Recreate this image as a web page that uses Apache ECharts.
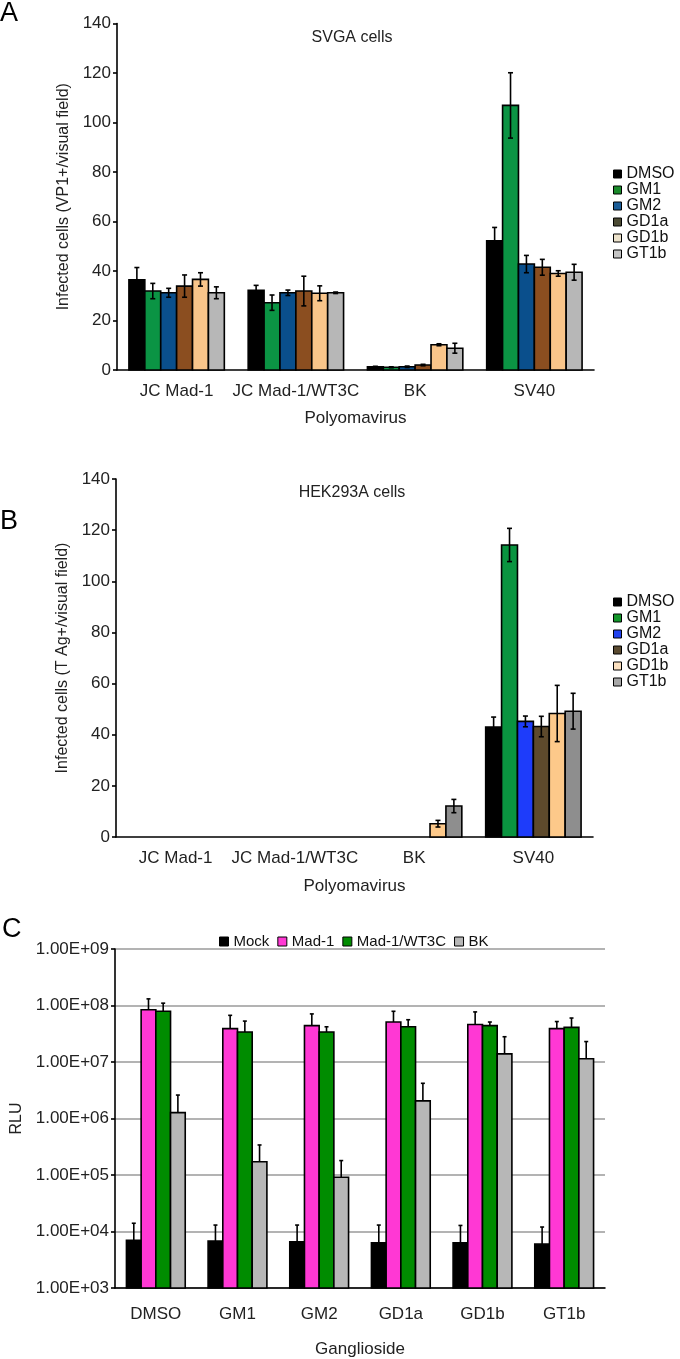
<!DOCTYPE html>
<html><head><meta charset="utf-8">
<script src="https://cdn.jsdelivr.net/npm/echarts@6/dist/echarts.min.js"></script>
<style>html,body{margin:0;padding:0;background:#fff}#c{width:680px;height:1359px}</style>
</head><body><div id="c"></div>
<script>
// ---------- DATA ----------
const virusCats = ['JC Mad-1', 'JC Mad-1/WT3C', 'BK', 'SV40'];
const gangNames = ['DMSO', 'GM1', 'GM2', 'GD1a', 'GD1b', 'GT1b'];
const linearTicks = [0, 20, 40, 60, 80, 100, 120, 140];

// Panel A: SVGA cells, infected cells per visual field (mean, ±SD)
const svgaDMSO = [36.4, 32.2, 1.3, 52.2];
const svgaDMSOErr = [5.0, 2.0, 0.2, 5.4];
const svgaGM1 = [31.9, 27.2, 1.1, 106.9];
const svgaGM1Err = [3.1, 3.1, 0.2, 13.2];
const svgaGM2 = [31.2, 31.2, 1.3, 42.8];
const svgaGM2Err = [1.8, 1.1, 0.3, 3.5];
const svgaGD1a = [33.9, 31.9, 2.0, 41.5];
const svgaGD1aErr = [4.5, 6.0, 0.3, 3.2];
const svgaGD1b = [36.6, 31.0, 10.2, 39.0];
const svgaGD1bErr = [2.7, 3.0, 0.4, 1.1];
const svgaGT1b = [31.2, 31.2, 8.8, 39.5];
const svgaGT1bErr = [2.4, 0.3, 2.0, 3.2];

// Panel B: HEK293A cells
const hekDMSO = [0, 0, 0, 43.0];
const hekDMSOErr = [0, 0, 0, 3.9];
const hekGM1 = [0, 0, 0, 114.2];
const hekGM1Err = [0, 0, 0, 6.5];
const hekGM2 = [0, 0, 0, 45.2];
const hekGM2Err = [0, 0, 0, 2.1];
const hekGD1a = [0, 0, 0, 43.2];
const hekGD1aErr = [0, 0, 0, 4.0];
const hekGD1b = [0, 0, 5.2, 48.3];
const hekGD1bErr = [0, 0, 1.3, 11.0];
const hekGT1b = [0, 0, 12.1, 49.2];
const hekGT1bErr = [0, 0, 2.6, 7.0];

// Panel C: RLU (log scale), upper error only
const rluMock = [7.0e3, 6.8e3, 6.6e3, 6.3e3, 6.3e3, 6.0e3];
const rluMockErr = [7.0e3, 6.2e3, 6.4e3, 6.7e3, 6.5e3, 6.0e3];
const rluMad1 = [8.4e7, 3.9e7, 4.4e7, 5.1e7, 4.6e7, 3.9e7];
const rluMad1Err = [4.7e7, 2.8e7, 2.7e7, 2.8e7, 3.1e7, 1.3e7];
const rluWT3C = [7.9e7, 3.4e7, 3.4e7, 4.2e7, 4.4e7, 4.1e7];
const rluWT3CErr = [3.1e7, 1.9e7, 0.8e7, 1.4e7, 0.7e7, 1.9e7];
const rluBK = [1.27e6, 1.72e5, 9.1e4, 2.05e6, 1.39e7, 1.14e7];
const rluBKErr = [1.33e6, 1.68e5, 0.89e5, 2.15e6, 1.41e7, 1.16e7];

// ---------- STYLE ----------
const FONT = 'Liberation Sans, Arial, sans-serif';
const colA = ['#000000', '#0b9444', '#0a4f8c', '#8b4e20', '#f9c58a', '#b7b7b7'];
const legColA = ['#000000', '#1a8a2a', '#1b5d98', '#4b4a33', '#ece2cb', '#c4c4c4'];
const colB = ['#000000', '#0a9440', '#1e3cfa', '#5e4a2c', '#fdc98a', '#8e8e8e'];
const legColB = ['#000000', '#13962a', '#2142ef', '#5a4a30', '#fbe0c0', '#a8a8a8'];
const colC = ['#000000', '#ff38d4', '#008c00', '#b7b7b7'];

function makeRender(nBars, idx, frac, base, symErr, capHalf) {
  return function (params, api) {
    const ci = api.value(0), v = api.value(1), e = api.value(2);
    if (!(v > 0)) return null;
    const p0 = api.coord([0, v]), p1 = api.coord([1, v]);
    const W = p1[0] - p0[0];
    const bw = W * frac / nBars;
    const c = api.coord([ci, v]);
    const x0 = c[0] - W * frac / 2 + idx * bw;
    const yb = api.coord([ci, base])[1];
    const yt = c[1];
    const cx = x0 + bw / 2;
    const children = [{
      type: 'rect',
      shape: { x: x0, y: yt, width: bw, height: yb - yt },
      style: { fill: api.visual('color'), stroke: '#000', lineWidth: 1.6 }
    }];
    if (e > 0) {
      const yHi = api.coord([ci, v + e])[1];
      const yLo = symErr ? api.coord([ci, v - e])[1] : yt;
      const ls = { stroke: '#000', lineWidth: 1.6 };
      children.push({ type: 'line', shape: { x1: cx, y1: yHi, x2: cx, y2: yLo }, style: ls });
      children.push({ type: 'line', shape: { x1: cx - capHalf, y1: yHi, x2: cx + capHalf, y2: yHi }, style: ls });
      if (symErr) children.push({ type: 'line', shape: { x1: cx - capHalf, y1: yLo, x2: cx + capHalf, y2: yLo }, style: ls });
    }
    return { type: 'group', children };
  };
}

function series(name, vals, errs, color, gi, nBars, idx, frac, base, symErr, capHalf) {
  return {
    type: 'custom', name, xAxisIndex: gi, yAxisIndex: gi,
    itemStyle: { color },
    renderItem: makeRender(nBars, idx, frac, base, symErr, capHalf),
    encode: { x: 0, y: 1 },
    clip: false,
    data: vals.map((v, i) => [i, v, errs[i]])
  };
}

const aVals = [svgaDMSO, svgaGM1, svgaGM2, svgaGD1a, svgaGD1b, svgaGT1b];
const aErrs = [svgaDMSOErr, svgaGM1Err, svgaGM2Err, svgaGD1aErr, svgaGD1bErr, svgaGT1bErr];
const bVals = [hekDMSO, hekGM1, hekGM2, hekGD1a, hekGD1b, hekGT1b];
const bErrs = [hekDMSOErr, hekGM1Err, hekGM2Err, hekGD1aErr, hekGD1bErr, hekGT1bErr];
const cNames = ['Mock', 'Mad-1', 'Mad-1/WT3C', 'BK'];
const cVals = [rluMock, rluMad1, rluWT3C, rluBK];
const cErrs = [rluMockErr, rluMad1Err, rluWT3CErr, rluBKErr];

const allSeries = [];
gangNames.forEach((n, i) => allSeries.push(series(n, aVals[i], aErrs[i], colA[i], 0, 6, i, 0.8, 0, true, 2.5)));
gangNames.forEach((n, i) => allSeries.push(series(n, bVals[i], bErrs[i], colB[i], 1, 6, i, 0.8, 0, true, 2.5)));
cNames.forEach((n, i) => allSeries.push(series(n, cVals[i], cErrs[i], colC[i], 2, 4, i, 0.72, 1e3, false, 2)));

const axisLine = { show: true, lineStyle: { color: '#000', width: 1.6 } };
const tick = { show: true, length: 4, lineStyle: { color: '#000', width: 1.6 } };
const lbl = { color: '#222', fontFamily: FONT, fontSize: 17 };

function catAxis(gi, cats, nameTxt, nameGap, margin) {
  return {
    type: 'category', gridIndex: gi, data: cats, boundaryGap: true,
    axisLine, axisTick: Object.assign({ interval: 0, length: 5 }, { lineStyle: tick.lineStyle }),
    axisLabel: Object.assign({ interval: 0, margin }, lbl),
    name: nameTxt, nameLocation: 'middle', nameGap,
    nameTextStyle: { color: '#222', fontFamily: FONT, fontSize: 17 }
  };
}
function linAxis(gi, nameTxt) {
  return {
    type: 'value', gridIndex: gi, min: 0, max: 140, interval: 20,
    axisLine, axisTick: tick, splitLine: { show: false },
    axisLabel: Object.assign({ margin: 6 }, lbl),
    name: nameTxt, nameLocation: 'middle', nameGap: 42,
    nameTextStyle: { color: '#222', fontFamily: FONT, fontSize: 16 }
  };
}

function legendData(cols) {
  return gangNames.map((n, i) => ({ name: n, itemStyle: { color: cols[i], borderColor: '#000', borderWidth: 1 } }));
}
const legText = { color: '#111', fontFamily: FONT, fontSize: 16, lineHeight: 15 };

const option = {
  animation: false,
  backgroundColor: '#fff',
  graphic: [
    { type: 'text', left: 0, top: 0, style: { text: 'A', font: '27px ' + FONT, fill: '#000' } },
    { type: 'text', left: 0, top: 508, style: { text: 'B', font: '27px ' + FONT, fill: '#000' } },
    { type: 'text', left: 2, top: 916, style: { text: 'C', font: '27px ' + FONT, fill: '#000' } },
    { type: 'text', x: 352, y: 38, style: { text: 'SVGA cells', font: '16px ' + FONT, fill: '#222', align: 'center', verticalAlign: 'middle' } },
    { type: 'text', x: 352, y: 493, style: { text: 'HEK293A cells', font: '16px ' + FONT, fill: '#222', align: 'center', verticalAlign: 'middle' } }
  ],
  legend: [
    { orient: 'vertical', left: 608, top: 161, itemWidth: 8, itemHeight: 8, itemGap: 0, icon: 'rect',
      textStyle: legText, data: legendData(legColA), selectedMode: false },
    { orient: 'vertical', left: 608, top: 589, itemWidth: 8, itemHeight: 8, itemGap: 0, icon: 'rect',
      textStyle: legText, data: legendData(legColB), selectedMode: false },
    { orient: 'horizontal', left: 214, top: 929, itemWidth: 9, itemHeight: 9, itemGap: 8, icon: 'rect',
      textStyle: { color: '#111', fontFamily: FONT, fontSize: 15 }, selectedMode: false,
      data: cNames.map((n, i) => ({ name: n, itemStyle: { color: colC[i], borderColor: '#000', borderWidth: 1 } })) }
  ],
  grid: [
    { left: 117, top: 23.5, width: 477, height: 346.5 },
    { left: 116, top: 479, width: 477, height: 358 },
    { left: 115, top: 949, width: 490, height: 348 }
  ],
  xAxis: [
    catAxis(0, virusCats, 'Polyomavirus', 40, 13),
    catAxis(1, virusCats, 'Polyomavirus', 41, 13),
    catAxis(2, gangNames, 'Ganglioside', 53, 18)
  ],
  yAxis: [
    linAxis(0, 'Infected cells (VP1+/visual field)'),
    linAxis(1, 'Infected cells (T Ag+/visual field)'),
    {
      type: 'log', gridIndex: 2, min: 1e3, max: 1e9, logBase: 10,
      axisLine, axisTick: tick,
      splitLine: { show: true, lineStyle: { color: '#9a9a9a', width: 1.6 } },
      axisLabel: Object.assign({ margin: 6, formatter: v => v.toExponential(2).toUpperCase().replace(/E\+(\d)$/, 'E+0$1') }, lbl),
      name: 'RLU', nameLocation: 'middle', nameGap: 84,
      nameTextStyle: { color: '#222', fontFamily: FONT, fontSize: 16 }
    }
  ],
  series: allSeries
};
const chart = echarts.init(document.getElementById('c'), null, { renderer: 'canvas' });
chart.setOption(option);
</script></body></html>
